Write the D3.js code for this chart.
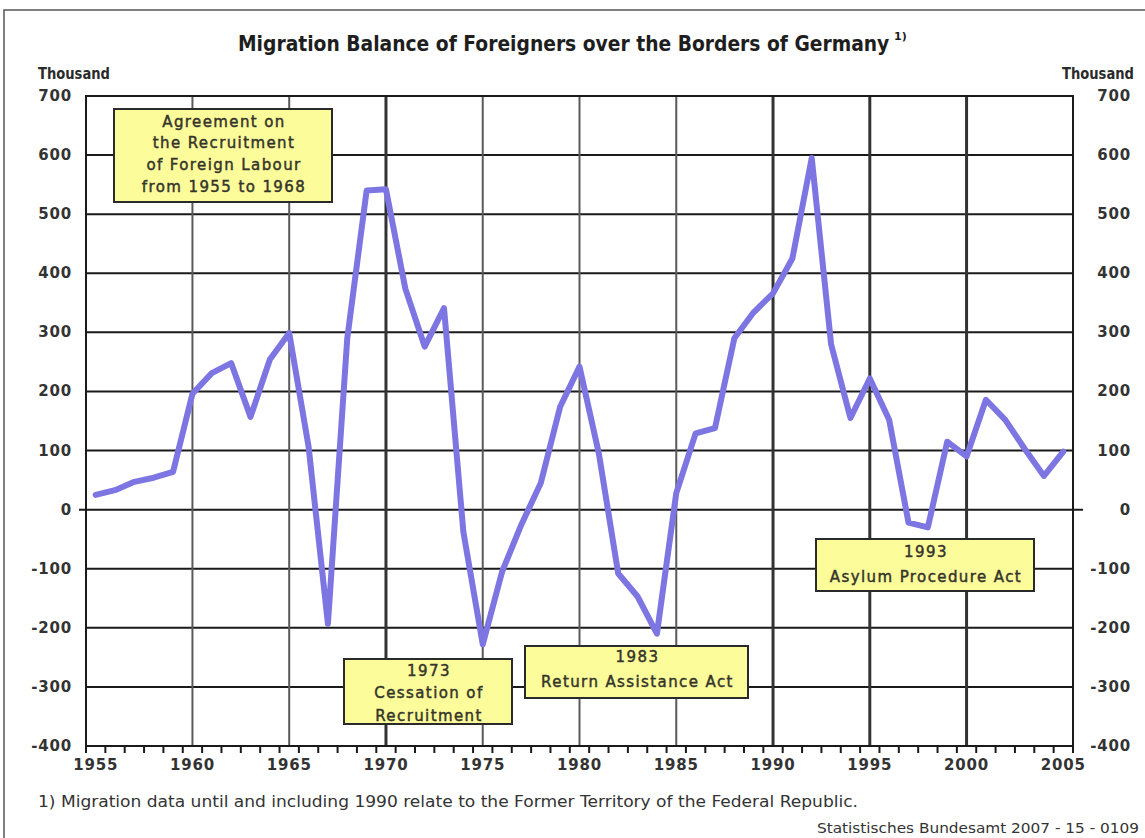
<!DOCTYPE html>
<html>
<head>
<meta charset="utf-8">
<script src="https://cdn.jsdelivr.net/npm/d3@7/dist/d3.min.js"></script>
<style>
  body { margin: 0; background: #fff; }
  svg { display: block; }
</style>
</head>
<body>
<div id="viz"></div>
<script>
// net migration of foreigners, thousand persons
const years = d3.range(1955, 2006);
const balance = [
  25, 33, 47, 54, 64, 196, 231, 248, 157, 254,
  299, 107, -193, 290, 540, 542, 374, 276, 341, -38,
  -228, -105, -25, 45, 174, 242, 95, -108, -147, -210,
  28, 129, 138, 290, 334, 366, 425, 595, 280, 155,
  222, 152, -22, -30, 115, 90, 186, 152, 103, 57,
  98
];
const yTicks = [700, 600, 500, 400, 300, 200, 100, 0, -100, -200, -300, -400];
const labelYears = [1955, 1960, 1965, 1970, 1975, 1980, 1985, 1990, 1995, 2000, 2005];
const gridYears = [1960, 1965, 1970, 1975, 1980, 1985, 1990, 1995, 2000];
const eventYears = [1970, 1990, 1995, 2000];

const titleText = 'Migration Balance of Foreigners over the Borders of Germany';
const unitText = 'Thousand';
const footnote = '1) Migration data until and including 1990 relate to the Former Territory of the Federal Republic.';
const source = 'Statistisches Bundesamt 2007 - 15 - 0109';

const notes = [
  ['Agreement on', 'the Recruitment', 'of Foreign Labour', 'from 1955 to 1968'],
  ['1973', 'Cessation of', 'Recruitment'],
  ['1983', 'Return Assistance Act'],
  ['1993', 'Asylum Procedure Act']
];

const width = 1145;
const height = 838;
const plot = { left: 86, right: 1073, top: 96, bottom: 746 };
const font = 'DejaVu Sans, Verdana, sans-serif';

const svg = d3.select('#viz').append('svg')
  .attr('width', width)
  .attr('height', height);

const x = d3.scaleBand()
  .domain(years)
  .range([plot.left, plot.right]);
const xc = d => x(d) + x.bandwidth() / 2;

const y = d3.scaleLinear()
  .domain([-400, 700])
  .range([plot.bottom, plot.top]);

// outer frame
svg.append('path')
  .attr('d', `M4,${height} L4,10 L${width},10`)
  .attr('fill', 'none')
  .attr('stroke', '#555')
  .attr('stroke-width', 1.5);

// title: squeeze the real glyph run into the condensed width of the original
const titleLeft = 238;
const titleWidth = 652;
const title = svg.append('text')
  .attr('x', 0)
  .attr('y', 0)
  .attr('font-family', font)
  .attr('font-weight', 'bold')
  .attr('font-size', 22)
  .attr('fill', '#1e1e1e')
  .text(titleText);
const natural = title.node().getComputedTextLength();
title.attr('transform', `translate(${titleLeft},51) scale(${titleWidth / natural},1)`);

svg.append('text')
  .attr('x', titleLeft + titleWidth + 4)
  .attr('y', 40)
  .attr('font-family', font)
  .attr('font-weight', 'bold')
  .attr('font-size', 11)
  .attr('fill', '#1e1e1e')
  .text('1)');

// unit labels
[[38, 'start'], [1134, 'end']].forEach(([px, anchor]) => {
  svg.append('text')
    .attr('x', px)
    .attr('y', 79)
    .attr('text-anchor', anchor)
    .attr('font-family', font)
    .attr('font-weight', 'bold')
    .attr('font-size', 15)
    .attr('fill', '#2a2a2a')
    .attr('textLength', 72)
    .attr('lengthAdjust', 'spacingAndGlyphs')
    .text(unitText);
});

const g = svg.append('g');

// horizontal grid
g.selectAll('line.hgrid')
  .data(yTicks)
  .enter()
  .append('line')
  .attr('class', 'hgrid')
  .attr('x1', d => d === 0 ? plot.left - 7 : plot.left)
  .attr('x2', d => d === 0 ? plot.right + 10 : plot.right)
  .attr('y1', d => y(d))
  .attr('y2', d => y(d))
  .attr('stroke', '#1a1a1a')
  .attr('stroke-width', 2);

// vertical grid
g.selectAll('line.vgrid')
  .data(gridYears)
  .enter()
  .append('line')
  .attr('class', 'vgrid')
  .attr('x1', d => xc(d))
  .attr('x2', d => xc(d))
  .attr('y1', plot.top)
  .attr('y2', plot.bottom)
  .attr('stroke', d => eventYears.includes(d) ? '#333' : '#5a5a5a')
  .attr('stroke-width', d => eventYears.includes(d) ? 3 : 2);

// plot border
g.append('rect')
  .attr('x', plot.left)
  .attr('y', plot.top)
  .attr('width', plot.right - plot.left)
  .attr('height', plot.bottom - plot.top)
  .attr('fill', 'none')
  .attr('stroke', '#1a1a1a')
  .attr('stroke-width', 2);

// category tick marks between years
const tickPos = years.map(d => x(d)).concat([plot.right]);
g.selectAll('line.xtick')
  .data(tickPos)
  .enter()
  .append('line')
  .attr('class', 'xtick')
  .attr('x1', d => d)
  .attr('x2', d => d)
  .attr('y1', plot.bottom)
  .attr('y2', plot.bottom + 7)
  .attr('stroke', '#1a1a1a')
  .attr('stroke-width', 2);

// y axis labels, both sides
const labelStyle = sel => sel
  .attr('font-family', font)
  .attr('font-weight', 'bold')
  .attr('font-size', 15)
  .attr('letter-spacing', 0.8)
  .attr('fill', '#333')
  .attr('dominant-baseline', 'central');

g.selectAll('text.yleft')
  .data(yTicks)
  .enter()
  .append('text')
  .attr('class', 'yleft')
  .attr('x', 72)
  .attr('y', d => y(d))
  .attr('text-anchor', 'end')
  .call(labelStyle)
  .text(d => d);

g.selectAll('text.yright')
  .data(yTicks)
  .enter()
  .append('text')
  .attr('class', 'yright')
  .attr('x', 1131)
  .attr('y', d => y(d))
  .attr('text-anchor', 'end')
  .call(labelStyle)
  .text(d => d);

g.selectAll('text.xlab')
  .data(labelYears)
  .enter()
  .append('text')
  .attr('class', 'xlab')
  .attr('x', d => xc(d))
  .attr('y', 765)
  .attr('text-anchor', 'middle')
  .call(labelStyle)
  .text(d => d);

// the series
const line = d3.line()
  .x((d, i) => xc(years[i]))
  .y(d => y(d));

g.append('path')
  .datum(balance)
  .attr('d', line)
  .attr('fill', 'none')
  .attr('stroke', '#7d76e2')
  .attr('stroke-width', 6)
  .attr('stroke-linejoin', 'round')
  .attr('stroke-linecap', 'round');

// annotation boxes (layout in pixels)
const boxes = [
  { x: 114, y: 109, w: 218, h: 93, lineY: [127, 148, 170, 192] },
  { x: 344, y: 659, w: 168, h: 65, lineY: [676, 698, 721] },
  { x: 525, y: 646, w: 223, h: 52, lineY: [662, 687] },
  { x: 816, y: 539, w: 218, h: 52, lineY: [557, 582] }
];

const notesG = g.selectAll('g.note')
  .data(boxes)
  .enter()
  .append('g')
  .attr('class', 'note');

notesG.append('rect')
  .attr('x', d => d.x)
  .attr('y', d => d.y)
  .attr('width', d => d.w)
  .attr('height', d => d.h)
  .attr('fill', '#fdfc9b')
  .attr('stroke', '#2a2a2a')
  .attr('stroke-width', 2);

notesG.each(function (d, i) {
  d3.select(this).selectAll('text')
    .data(notes[i])
    .enter()
    .append('text')
    .attr('x', d.x + d.w / 2 + 1)
    .attr('y', (t, j) => d.lineY[j])
    .attr('text-anchor', 'middle')
    .attr('font-family', font)
    .attr('font-size', 15)
    .attr('letter-spacing', 1.4)
    .attr('fill', '#34342a')
    .attr('stroke', '#34342a')
    .attr('stroke-width', 0.45)
    .text(t => t);
});

// footnote and source
svg.append('text')
  .attr('x', 38)
  .attr('y', 807)
  .attr('font-family', font)
  .attr('font-size', 16)
  .attr('fill', '#333')
  .attr('textLength', 820)
  .attr('lengthAdjust', 'spacingAndGlyphs')
  .text(footnote);

svg.append('text')
  .attr('x', 817)
  .attr('y', 833)
  .attr('font-family', font)
  .attr('font-size', 14)
  .attr('fill', '#333')
  .attr('textLength', 322)
  .attr('lengthAdjust', 'spacingAndGlyphs')
  .text(source);
</script>
</body>
</html>
